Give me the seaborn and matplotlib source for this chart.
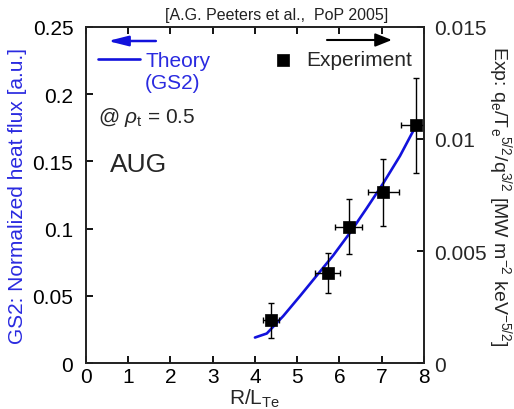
import matplotlib
matplotlib.use("Agg")
import matplotlib.pyplot as plt
import seaborn as sns
import numpy as np

# ---- data ----
theory_x = [4.0, 4.28, 4.67, 5.07, 5.46, 5.85, 6.25, 6.64, 7.04, 7.43, 7.75, 7.82]
theory_y = [0.019, 0.022, 0.035, 0.050, 0.065, 0.080, 0.097, 0.115, 0.134, 0.154, 0.173, 0.177]

exp_x = [4.38, 5.72, 6.22, 7.04, 7.80]
exp_y = [0.00192, 0.00402, 0.00608, 0.00762, 0.0106]
exp_yerr = [0.00078, 0.00090, 0.00123, 0.00150, 0.00210]
exp_xerr = [0.20, 0.30, 0.32, 0.36, 0.35]

x_ticks = [0, 1, 2, 3, 4, 5, 6, 7, 8]
left_ticks = [0, 0.05, 0.1, 0.15, 0.2, 0.25]
left_labels = ["0", "0.05", "0.1", "0.15", "0.2", "0.25"]
right_ticks = [0, 0.005, 0.01, 0.015]
right_labels = ["0", "0.005", "0.01", "0.015"]

BLUE = "#1212dc"
TXTBLUE = "#2a2ae0"

sns.set_style("ticks")
plt.rcParams["font.family"] = ["Liberation Sans", "DejaVu Sans"]
plt.rcParams["mathtext.fontset"] = "custom"
plt.rcParams["mathtext.rm"] = "Liberation Sans"
plt.rcParams["mathtext.it"] = "Liberation Sans:italic"
plt.rcParams["mathtext.bf"] = "Liberation Sans:bold"

fig = plt.figure(figsize=(5.14, 4.10), dpi=100)
ax = fig.add_axes([0.167, 0.112, 0.658, 0.820])

sns.lineplot(x=theory_x, y=theory_y, ax=ax, color=BLUE, lw=1.9, label="Theory", sort=False)
ax.set_xlim(0, 8)
ax.set_ylim(0, 0.25)
ax.set_xticks(x_ticks)
ax.set_yticks(left_ticks)
ax.set_yticklabels(left_labels)
ax.xaxis.set_ticks_position("both")
ax.tick_params(axis="both", which="major", direction="in", length=5, width=1.3,
               labelsize=15, color="black", labelcolor="black")
ax.tick_params(axis="y", pad=9, left=True, right=False)
ax.tick_params(axis="x", pad=3, top=True, bottom=True)
for s in ax.spines.values():
    s.set_linewidth(1.2)
    s.set_color("black")
    s.set_visible(True)

ax.set_ylabel("GS2: Normalized heat flux [a.u.]", color=TXTBLUE, fontsize=15, labelpad=4)
ax.set_xlabel(r"R/L$_{\rm Te}$", fontsize=15, labelpad=0)

ax2 = ax.twinx()
ax2.errorbar(exp_x, exp_y, yerr=exp_yerr, xerr=exp_xerr, fmt="none", ecolor="black",
             elinewidth=1.0, capsize=2.5, capthick=1.0)
sns.scatterplot(x=exp_x, y=exp_y, ax=ax2, marker="s", s=78, color="black",
                edgecolor="black", linewidth=0.5, label="Experiment", zorder=5)
ax2.set_ylim(0, 0.015)
ax2.set_yticks(right_ticks)
ax2.set_yticklabels(right_labels)
ax2.tick_params(axis="y", direction="in", length=5, width=1.3, labelsize=15, pad=7,
                color="black")
ax2.set_ylabel(r"Exp: q$_{\rm e}$/T$_{\rm e}$$^{5/2}$/q$^{3/2}$ [MW m$^{-2}$ keV$^{-5/2}$]",
               rotation=270, fontsize=14, labelpad=20)
for s in ax2.spines.values():
    s.set_linewidth(1.2)

# legends
leg1 = ax.legend(loc="center left", bbox_to_anchor=(0.0355, 0.899), frameon=False,
                 fontsize=15, handlelength=2.0, handletextpad=0.3, borderpad=0,
                 borderaxespad=0, labelcolor=TXTBLUE)
leg2 = ax2.legend(loc="center left", bbox_to_anchor=(0.552, 0.902), frameon=False,
                  fontsize=15, handlelength=1.0, handletextpad=0.6, borderpad=0,
                  borderaxespad=0)

ax.text(0.175, 0.836, "(GS2)", transform=ax.transAxes, color=TXTBLUE, fontsize=15,
        ha="left", va="center")
ax.text(0.0355, 0.732, r"@ $\rho_{\rm t}$ = 0.5", transform=ax.transAxes, fontsize=15,
        ha="left", va="center")
ax.text(0.071, 0.592, "AUG", transform=ax.transAxes, fontsize=19, ha="left", va="center")

# arrows
ax.annotate("", xy=(0.065, 0.958), xytext=(0.207, 0.958), xycoords="axes fraction",
            arrowprops=dict(arrowstyle="-|>,head_length=1.2,head_width=0.3",
                            color=BLUE, lw=1.8, mutation_scale=10, shrinkA=0, shrinkB=0))
ax.annotate("", xy=(0.905, 0.961), xytext=(0.713, 0.961), xycoords="axes fraction",
            arrowprops=dict(arrowstyle="-|>,head_length=1.0,head_width=0.4",
                            color="black", lw=1.5, mutation_scale=10, shrinkA=0, shrinkB=0))

fig.text(0.321, 0.963, "[A.G. Peeters et al.,  PoP 2005]", fontsize=11.5,
         ha="left", va="center", color="#222222")

fig.savefig("out.png", dpi=100)
